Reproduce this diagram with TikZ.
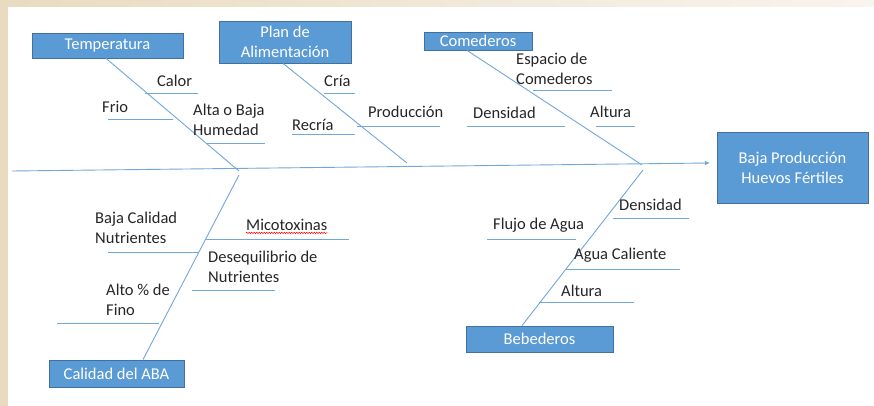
\documentclass[tikz,border=0pt]{standalone}
\usepackage{fontspec}
\setmainfont{Carlito}
\usetikzlibrary{arrows.meta,decorations.pathmorphing}
\definecolor{boxblue}{HTML}{5B9BD5}
\definecolor{boxedge}{HTML}{41719C}
\definecolor{bonecol}{HTML}{72A7DC}
\definecolor{beige}{HTML}{E9DBBF}
\definecolor{beigelt}{HTML}{F8F4EE}
\definecolor{txt}{HTML}{262626}

\begin{document}
\begin{tikzpicture}[x=1pt,y=-1pt,
    font=\fontsize{16.5}{20}\selectfont,
    cat/.style={draw=boxedge,fill=boxblue,text=white,line width=0.8pt,inner sep=0pt,align=center},
    cause/.style={anchor=west,inner sep=0pt,text=txt,align=left},
    bone/.style={draw=bonecol,line width=0.9pt}]
  \useasboundingbox (0,0) rectangle (874,406);
  % background frame
  \fill[beige] (0,0) rectangle (8,406);
  \shade[left color=beige,right color=beigelt] (8,0) rectangle (874,7);
  \fill[white] (8,7) rectangle (874,406);

  % categories
  \node[cat,minimum width=151pt,minimum height=25pt] (temp) at (107.5,45.5) {Temperatura};
  \node[cat,minimum width=132pt,minimum height=42pt] (plan) at (285,42) {Plan de\\Alimentación};
  \node[cat,minimum width=108pt,minimum height=18pt] (comed) at (478,41) {Comederos};
  \node[cat,minimum width=135pt,minimum height=27pt] (aba) at (116.5,373.5) {Calidad del ABA};
  \node[cat,minimum width=147pt,minimum height=26pt] (bebe) at (539.5,339) {Bebederos};
  \node[cat,minimum width=151pt,minimum height=71pt] (prod) at (792.5,167.5) {Baja Producción\\Huevos Fértiles};

  % spine and bones
  \coordinate (tail) at (12,171);
  \coordinate (head) at (710,163);
  \coordinate (t1) at (239,171);
  \coordinate (p1) at (407,163);
  \coordinate (c1) at (642,165);
  \coordinate (a1) at (239,175);
  \coordinate (b1) at (643,170);
  \draw[bone,-{Latex[length=5pt,width=4.5pt]}] (tail) -- (head);
  \draw[bone] (temp.south -| 106,0) -- (t1);
  \draw[bone] (plan.south -| 283,0) -- (p1);
  \draw[bone] (comed.south -| 467,0) -- (c1);
  \draw[bone] (aba.north -| 143,0) -- (a1);
  \draw[bone] (bebe.north -| 522,0) -- (b1);

  % Temperatura
  \node[cause] (calor) at (157,81) {Calor};
  \node[cause] (frio) at (102,107) {Frio};
  \node[cause] (hum) at (193,120) {Alta o Baja\\Humedad};
  \draw[bone] (145,93) -- (198,93);
  \draw[bone] (108,119) -- (173,119);
  \draw[bone] (206,143) -- (265,143);

  % Plan de Alimentacion
  \node[cause] (cria) at (324,81) {Cría};
  \node[cause] (recria) at (292,125) {Recría};
  \node[cause] (produc) at (368,112) {Producción};
  \draw[bone] (324,93) -- (355,93);
  \draw[bone] (292,134) -- (355,134);
  \draw[bone] (357,126) -- (440,126);

  % Comederos
  \node[cause] (espacio) at (516,69) {Espacio de\\Comederos};
  \node[cause] (dens1) at (473,113) {Densidad};
  \node[cause] (alt1) at (590,112) {Altura};
  \draw[bone] (533,90) -- (612,90);
  \draw[bone] (467,126) -- (565,126);
  \draw[bone] (596,126) -- (635,126);

  % Calidad del ABA
  \node[cause] (bajacal) at (95,228) {Baja Calidad\\Nutrientes};
  \node[cause] (mico) at (246,225) {Micotoxinas};
  \node[cause] (deseq) at (208,267) {Desequilibrio de\\Nutrientes};
  \node[cause] (fino) at (106,300) {Alto \% de\\Fino};
  \draw[red,line width=0.5pt,decorate,decoration={snake,amplitude=0.7pt,segment length=2.5pt}]
    ([yshift=-2pt]mico.south west) -- ([yshift=-2pt]mico.south east);
  \draw[bone] (108,252) -- (199,252);
  \draw[bone] (206,239) -- (349,239);
  \draw[bone] (192,290) -- (275,290);
  \draw[bone] (57,323) -- (159,323);

  % Bebederos
  \node[cause] (dens2) at (619,205) {Densidad};
  \node[cause] (flujo) at (493,225) {Flujo de Agua};
  \node[cause] (aguacal) at (574,255) {Agua Caliente};
  \node[cause] (alt2) at (561,291) {Altura};
  \draw[bone] (613,218) -- (689,218);
  \draw[bone] (487,239) -- (576,239);
  \draw[bone] (566,269) -- (680,269);
  \draw[bone] (539,302) -- (634,302);
\end{tikzpicture}
\end{document}
